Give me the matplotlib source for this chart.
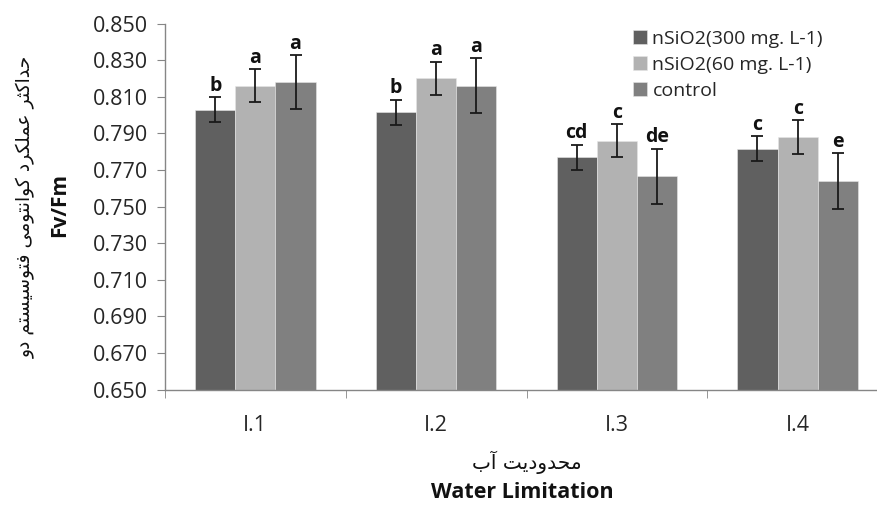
import numpy as np
import matplotlib.pyplot as plt

# data
categories = ['I.1', 'I.2', 'I.3', 'I.4']
series_names = ['nSiO2(300 mg. L-1)', 'nSiO2(60 mg. L-1)', 'control']
nano300 = [0.803, 0.8015, 0.777, 0.7815]
nano60 = [0.816, 0.820, 0.786, 0.788]
control = [0.818, 0.816, 0.7665, 0.764]
err300 = [0.0066, 0.0069, 0.0069, 0.0068]
err60 = [0.0090, 0.0091, 0.0090, 0.0091]
err_control = [0.0148, 0.0150, 0.0152, 0.0152]
letters300 = ['b', 'b', 'cd', 'c']
letters60 = ['a', 'a', 'c', 'c']
letters_control = ['a', 'a', 'de', 'e']
yticks = [0.650, 0.670, 0.690, 0.710, 0.730, 0.750, 0.770, 0.790, 0.810, 0.830, 0.850]

ylabel_fa = 'حداکثر عملکرد کوانتومی فتوسیستم دو'
xlabel_fa = 'محدودیت آب'

# simple arabic/persian shaping (matplotlib has no shaping / bidi)
forms = {
    '\u0627': ('\uFE8D', '\uFE8E', None, None),
    '\u0622': ('\uFE81', '\uFE82', None, None),
    '\u062F': ('\uFEA9', '\uFEAA', None, None),
    '\u0631': ('\uFEAD', '\uFEAE', None, None),
    '\u0648': ('\uFEED', '\uFEEE', None, None),
    '\u0628': ('\uFE8F', '\uFE90', '\uFE91', '\uFE92'),
    '\u062A': ('\uFE95', '\uFE96', '\uFE97', '\uFE98'),
    '\u062B': ('\uFE99', '\uFE9A', '\uFE9B', '\uFE9C'),
    '\u062D': ('\uFEA1', '\uFEA2', '\uFEA3', '\uFEA4'),
    '\u0633': ('\uFEB1', '\uFEB2', '\uFEB3', '\uFEB4'),
    '\u0639': ('\uFEC9', '\uFECA', '\uFECB', '\uFECC'),
    '\u0641': ('\uFED1', '\uFED2', '\uFED3', '\uFED4'),
    '\u0644': ('\uFEDD', '\uFEDE', '\uFEDF', '\uFEE0'),
    '\u0645': ('\uFEE1', '\uFEE2', '\uFEE3', '\uFEE4'),
    '\u0646': ('\uFEE5', '\uFEE6', '\uFEE7', '\uFEE8'),
    '\u06A9': ('\uFB8E', '\uFB8F', '\uFB90', '\uFB91'),
    '\u06CC': ('\uFBFC', '\uFBFD', '\uFBFE', '\uFBFF'),
}


def shape(text):
    out = []
    for i, ch in enumerate(text):
        if ch not in forms:
            out.append(ch)
            continue
        iso, fin, ini, med = forms[ch]
        prev = text[i - 1] if i > 0 else None
        nxt = text[i + 1] if i < len(text) - 1 else None
        jp = prev in forms and forms[prev][2] is not None
        jn = ini is not None and nxt in forms
        if jp and jn:
            out.append(med)
        elif jp:
            out.append(fin)
        elif jn:
            out.append(ini)
        else:
            out.append(iso)
    return ''.join(reversed(out))


colors = ['#606060', '#b2b2b2', '#808080']
W, H = 878, 508
fig = plt.figure(figsize=(8.78, 5.08), dpi=100)
ax = fig.add_axes([165 / W, 1 - 389.7 / H, (888 - 165) / W, (389.7 - 23.5) / H])

x = np.arange(len(categories))
bw = 0.222
values = [nano300, nano60, control]
errors = [err300, err60, err_control]
letters = [letters300, letters60, letters_control]
for k in range(3):
    xs = x + (k - 1) * bw
    ax.bar(xs, values[k], bw, color=colors[k], edgecolor='#e6e6e6', linewidth=0.4,
           label=series_names[k], zorder=2)
    ax.errorbar(xs, values[k], yerr=errors[k], fmt='none', ecolor='#1a1a1a',
                elinewidth=1.3, capsize=4.5, capthick=1.3, zorder=3)
    for xi, v, e, l in zip(xs, values[k], errors[k], letters[k]):
        ax.annotate(l, (xi, v + e), xytext=(0, 1), textcoords='offset points',
                    ha='center', va='bottom', fontsize=14, fontweight='bold',
                    family='Open Sans', color='#111111')

ax.set_ylim(0.650, 0.850)
ax.set_xlim(-0.5, 3.5)
ax.set_yticks(yticks)
ax.set_yticklabels(['%.3f' % t for t in yticks], family='Open Sans', fontsize=15.5, color='#262626')
ax.set_xticks(x)
ax.set_xticklabels(categories, family='Open Sans', fontsize=15.5, color='#262626')
ax.tick_params(axis='x', which='major', length=0, pad=18)
ax.set_xticks(np.arange(-0.5, 4.0, 1.0), minor=True)
ax.tick_params(axis='x', which='minor', length=6, color='#868686', direction='out')
ax.tick_params(axis='y', length=6, color='#868686', direction='out', pad=6)
for s in ['top', 'right']:
    ax.spines[s].set_visible(False)
for s in ['left', 'bottom']:
    ax.spines[s].set_color('#868686')
    ax.spines[s].set_linewidth(1)

leg = ax.legend(loc='upper left', bbox_to_anchor=(633 / W, 1 - 30 / H), bbox_transform=fig.transFigure,
                frameon=False, prop={'family': 'Open Sans', 'size': 14},
                handlelength=0.7, handleheight=0.7, handletextpad=0.3, labelspacing=0.4,
                borderaxespad=0, borderpad=0)
for t in leg.get_texts():
    t.set_color('#262626')

fig.text(26 / W, 1 - 207 / H, shape(ylabel_fa), rotation=90, ha='center', va='center',
         family='DejaVu Sans', fontsize=13.5, color='#111111')
fig.text(60 / W, 1 - 205 / H, 'Fv/Fm', rotation=90, ha='center', va='center',
         family='Open Sans', fontsize=15, fontweight='bold', color='#111111')
fig.text(527 / W, 1 - 462 / H, shape(xlabel_fa), ha='center', va='center',
         family='DejaVu Sans', fontsize=14.5, color='#111111')
fig.text(522 / W, 1 - 493 / H, 'Water Limitation', ha='center', va='center',
         family='Open Sans', fontsize=15.5, fontweight='bold', color='#111111')

fig.savefig('out.png', dpi=100)
